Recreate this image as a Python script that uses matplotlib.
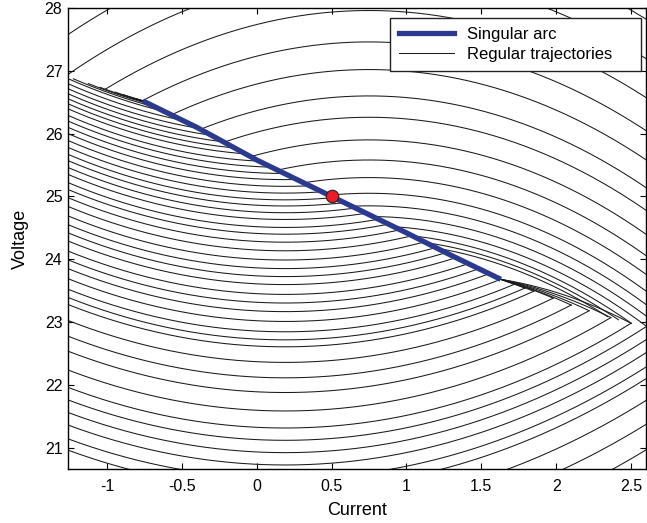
import numpy as np
import matplotlib.pyplot as plt
from matplotlib.lines import Line2D

plt.rcParams['font.family'] = ['Liberation Sans', 'DejaVu Sans']
plt.rcParams['axes.unicode_minus'] = False

# switching curve (singular arc plus its two extensions)
switch_i = [-1.40, -1.26, -0.76, 0.0, 0.5, 1.0, 1.63, 1.72, 1.79, 1.85, 1.98, 2.10, 2.22, 2.365, 2.50, 2.75]
switch_v = [27.00, 26.90, 26.52, 25.58, 25.0, 24.42, 23.68, 23.60, 23.54, 23.49, 23.38, 23.27, 23.18, 23.07, 22.98, 22.82]

# singular arc and the target point
arc_i = [-0.76, -0.4, 0.0, 0.5, 1.0, 1.3, 1.63]
arc_v = [26.52, 26.1, 25.58, 25.0, 24.42, 24.06, 23.68]
target_i, target_v = 0.5, 25.0

# corners where switch-on arcs meet switch-off arcs (lower right)
corner_i = [1.72, 1.79, 1.85, 1.98, 2.10, 2.22, 2.365, 2.50]
corner_v = [23.60, 23.54, 23.49, 23.38, 23.27, 23.18, 23.07, 22.98]

# regular trajectories, switch off (concave down): voltage at the top of each arc
upper_peak_v = [29.15, 28.55, 27.96, 27.46, 27.02, 26.6, 26.26, 25.9, 25.58,
                25.3, 25.05, 24.85, 24.68, 24.53, 24.41, 24.33, 24.27]
# regular trajectories, switch on (concave up): voltage where they leave the left axis
lower_left_v = [26.875, 26.795, 26.715, 26.635, 26.555, 26.475, 26.395, 26.29, 26.20,
                26.10, 26.0, 25.89, 25.78, 25.67, 25.57, 25.46, 25.35, 25.22, 25.11,
                24.98, 24.84, 24.69, 24.55, 24.42, 24.29, 24.13, 23.99, 23.85, 23.69,
                21.76, 21.56, 21.36, 21.14, 20.96]
# ones that start on the switching curve in the upper left
lower_start_i = [-1.225, -1.125, -1.047, -0.947, -0.891, -0.813]
# ones that come in through the bottom axis on the right
lower_bottom_i = [1.68, 2.05, 2.38]

xlim = (-1.26, 2.6)
ylim = (20.66, 28.0)

# shape of the two families of arcs (ellipses)
UI0, UV0, UK = 0.75, 0.0, 4.7
LI0, LV0, LK = 0.19, 56.0, 4.6

grid = np.linspace(-1.4, 2.8, 5000)
sw = np.interp(grid, switch_i, switch_v)


def upper_r(i0, v0, ic=UI0):
    return np.hypot(i0 - ic, (v0 - UV0) / UK)


def upper_v(r, ic=UI0):
    d = r ** 2 - (grid - ic) ** 2
    return np.where(d >= 0, UV0 + UK * np.sqrt(np.clip(d, 0, None)), np.nan)


def lower_r(i0, v0):
    return np.hypot(i0 - LI0, (LV0 - v0) / LK)


def lower_v(r):
    d = r ** 2 - (grid - LI0) ** 2
    return np.where(d >= 0, LV0 - LK * np.sqrt(np.clip(d, 0, None)), np.nan)


fig = plt.figure(figsize=(6.47, 5.23), dpi=100)
ax = fig.add_axes([0.1051, 0.1033, 0.8934, 0.8814])

lw_t = 0.75
col_t = '#1a1a1a'

# switch-on arcs
lower_rs = [lower_r(xlim[0], v) for v in lower_left_v]
lower_rs += [lower_r(i, ylim[0]) for i in lower_bottom_i]
lower_rs += [lower_r(i, v) for i, v in zip(corner_i, corner_v)]
for r in lower_rs:
    v = lower_v(r)
    ax.plot(grid, np.where(v <= sw + 1e-3, v, np.nan), color=col_t, lw=lw_t)

for i0 in lower_start_i:
    r = lower_r(i0, np.interp(i0, switch_i, switch_v))
    v = lower_v(r)
    ok = (grid >= i0) & ((grid < -0.76) | (v <= sw + 1e-3))
    ax.plot(grid, np.where(ok, v, np.nan), color=col_t, lw=lw_t)

# switch-off arcs
for vp in upper_peak_v:
    v = upper_v(upper_r(UI0, vp))
    ax.plot(grid, np.where(v >= sw - 1e-3, v, np.nan), color=col_t, lw=lw_t)

# switch-off arms from the end of the singular arc down to each corner
ip, vp = arc_i[-1], arc_v[-1]
for i1, v1 in zip(corner_i, corner_v):
    ic = ((i1 ** 2 - ip ** 2) + ((v1 - UV0) ** 2 - (vp - UV0) ** 2) / UK ** 2) / (2 * (i1 - ip))
    v = upper_v(upper_r(ip, vp, ic), ic)
    ok = (grid >= ip) & (grid <= i1 + 1e-3)
    ax.plot(grid, np.where(ok, v, np.nan), color=col_t, lw=lw_t)

ax.plot(arc_i, arc_v, color='#2b3990', lw=3.8, solid_capstyle='butt', zorder=3)
ax.plot([target_i], [target_v], 'o', ms=9, mfc='#ee1c25', mec='#222222', mew=0.8, zorder=4)

ax.set_xlim(*xlim)
ax.set_ylim(*ylim)
ax.set_xticks([-1, -0.5, 0, 0.5, 1, 1.5, 2, 2.5])
ax.set_xticklabels(['-1', '-0.5', '0', '0.5', '1', '1.5', '2', '2.5'])
ax.set_yticks([21, 22, 23, 24, 25, 26, 27, 28])
ax.tick_params(direction='in', top=True, right=True, length=4, width=0.8, labelsize=11.5)
ax.tick_params(axis='x', pad=7)
ax.tick_params(axis='y', pad=4)
for s in ax.spines.values():
    s.set_linewidth(1.0)
ax.set_xlabel('Current', fontsize=13, labelpad=6)
ax.set_ylabel('Voltage', fontsize=13, labelpad=11)

handles = [Line2D([], [], color='#2b3990', lw=3.8),
           Line2D([], [], color=col_t, lw=lw_t)]
leg = ax.legend(handles, ['Singular arc', 'Regular trajectories'], loc='upper left',
                bbox_to_anchor=(0.557, 0.978, 0.434, 0.0), mode='expand',
                fontsize=12, fancybox=False, framealpha=1, edgecolor='#222222',
                handlelength=3.3, borderpad=0.55, labelspacing=0.3, handletextpad=0.75,
                borderaxespad=0)
leg.get_frame().set_linewidth(1.0)

fig.savefig('out.png', dpi=100)
